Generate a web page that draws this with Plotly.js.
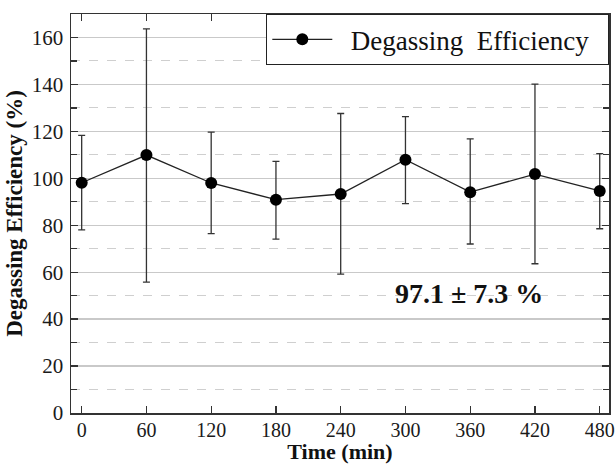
<!DOCTYPE html>
<html>
<head>
<meta charset="utf-8">
<script src="https://cdn.plot.ly/plotly-3.0.1.min.js"></script>
<style>html,body{margin:0;padding:0;background:#fff}#chart{width:616px;height:464px}</style>
</head>
<body>
<div id="chart"></div>
<script>
// Data
var timeMin = [0, 60, 120, 180, 240, 300, 360, 420, 480];
var efficiency = [98.1, 109.9, 98.0, 90.9, 93.3, 107.9, 94.1, 101.8, 94.6];
var errUp = [20.2, 53.8, 21.7, 16.3, 34.3, 18.4, 22.7, 38.3, 15.9];
var errDown = [20.1, 54.1, 21.6, 16.8, 34.1, 18.7, 22.1, 38.2, 16.1];
var xTickVals = [0, 60, 120, 180, 240, 300, 360, 420, 480];
var yTickVals = [0, 20, 40, 60, 80, 100, 120, 140, 160];
var seriesName = "\u00a0\u00a0Degassing\u00a0 Efficiency\u00a0\u00a0";
var summaryText = "97.1 \u00b1 7.3 %";
var summaryPos = {x: 359, y: 51};

var serif = "'Liberation Serif', 'Times New Roman', serif";

var trace = {
  x: timeMin,
  y: efficiency,
  type: 'scatter',
  mode: 'lines+markers',
  name: seriesName,
  line: {color: '#222', width: 1.3},
  marker: {color: '#000', size: 12, symbol: 'circle'},
  error_y: {
    type: 'data', symmetric: false,
    array: errUp, arrayminus: errDown,
    color: '#333', thickness: 1.3, width: 3.5
  }
};

var layout = {
  width: 616, height: 464,
  margin: {l: 71, r: 7, t: 14, b: 51},
  paper_bgcolor: '#fff', plot_bgcolor: '#fff',
  font: {family: serif, color: '#1a1a1a'},
  showlegend: true,
  legend: {
    x: 1, xanchor: 'right', y: 1, yanchor: 'top',
    bgcolor: '#fff', bordercolor: '#222', borderwidth: 1.3,
    font: {family: serif, size: 27, color: '#111'},
    itemwidth: 60
  },
  xaxis: {
    range: [-9.9, 488.6],
    tickvals: xTickVals,
    ticktext: xTickVals.map(String),
    ticks: 'inside', ticklen: 7, tickwidth: 1.3, tickcolor: '#333',
    showline: true, linecolor: '#333', linewidth: 1.5, mirror: 'ticks',
    showgrid: false, zeroline: false,
    tickfont: {family: serif, size: 20, color: '#1a1a1a'},
    ticklabelstandoff: -2,
    title: {text: '<b>Time (min)</b>', font: {family: serif, size: 22, color: '#111'}, standoff: 7}
  },
  yaxis: {
    range: [0, 170],
    tickvals: yTickVals,
    ticktext: yTickVals.map(String),
    ticks: 'inside', ticklen: 7, tickwidth: 1.3, tickcolor: '#333',
    showline: true, linecolor: '#333', linewidth: 1.5, mirror: 'ticks',
    showgrid: true, gridcolor: '#c9c9c9', gridwidth: 1.3,
    zeroline: false,
    minor: {dtick: 10, tick0: 0, ticks: 'inside', ticklen: 6, tickcolor: '#333', showgrid: true, gridcolor: '#cfcfcf', griddash: 'dash', gridwidth: 1},
    tickfont: {family: serif, size: 21, color: '#1a1a1a'},
    ticklabelstandoff: 2,
    title: {text: '<b>Degassing Efficiency (%)</b>', font: {family: serif, size: 23, color: '#111'}, standoff: 2}
  },
  annotations: [{
    x: summaryPos.x, y: summaryPos.y, xref: 'x', yref: 'y',
    text: '<b>' + summaryText + '</b>', showarrow: false,
    font: {family: serif, size: 28, color: '#111'},
    bgcolor: 'rgba(255,255,255,0)'
  }]
};

Plotly.newPlot('chart', [trace], layout, {displayModeBar: false, staticPlot: true});
</script>
</body>
</html>
